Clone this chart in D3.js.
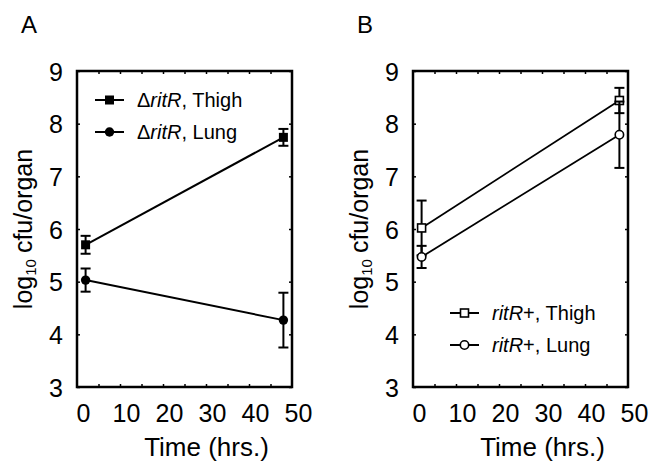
<!DOCTYPE html>
<html>
<head>
<meta charset="utf-8">
<script src="https://cdn.jsdelivr.net/npm/d3@7"></script>
<style>
  body { margin: 0; background: #fff; }
  svg { font-family: "Liberation Sans", Arial, sans-serif; }
</style>
</head>
<body>
<svg id="chart" width="652" height="461"></svg>
<script>
// values
var times = [2, 48];
var xTicks = [0, 10, 20, 30, 40, 50];
var xMinor = [5, 10, 15, 20, 25, 30, 35, 40, 45];
var yTicks = [3, 4, 5, 6, 7, 8, 9];

var thighA = [5.70, 7.74];
var thighAErr = [0.17, 0.16];
var lungA = [5.03, 4.27];
var lungAErr = [0.22, 0.52];

var thighB = [6.02, 8.44];
var thighBErr = [0.52, 0.24];
var lungB = [5.47, 7.79];
var lungBErr = [0.21, 0.63];

var svg = d3.select("#chart");

function drawPanel(cfg) {
    var left = cfg.left, right = cfg.left + 215, top = 71, bottom = 387;
    var x = d3.scaleLinear().domain([0, 50]).range([left, right]);
    var y = d3.scaleLinear().domain([3, 9]).range([bottom, top]);
    var g = svg.append("g");

    // panel letter
    g.append("text").attr("x", cfg.left - 56).attr("y", 33)
        .attr("font-size", 24).text(cfg.letter);

    // inner ticks on all four sides
    g.append("g").attr("transform", "translate(0," + bottom + ")")
        .call(d3.axisBottom(x).tickValues(xMinor).tickSize(-3).tickFormat(""))
        .call(a => a.select(".domain").remove());
    g.append("g").attr("transform", "translate(0," + top + ")")
        .call(d3.axisTop(x).tickValues(xMinor).tickSize(-3).tickFormat(""))
        .call(a => a.select(".domain").remove());
    g.append("g").attr("transform", "translate(" + left + ",0)")
        .call(d3.axisLeft(y).tickValues(yTicks).tickSize(-3).tickFormat(""))
        .call(a => a.select(".domain").remove());
    g.append("g").attr("transform", "translate(" + right + ",0)")
        .call(d3.axisRight(y).tickValues(yTicks).tickSize(-3).tickFormat(""))
        .call(a => a.select(".domain").remove());
    g.selectAll(".tick line").attr("stroke-width", 1.5);

    // tick labels
    var xa = g.append("g").attr("transform", "translate(0," + bottom + ")")
        .call(d3.axisBottom(x).tickValues(xTicks).tickSize(0).tickPadding(0).tickFormat(d3.format("d")));
    xa.select(".domain").remove();
    xa.selectAll("text").attr("font-size", 25).attr("font-family", null)
        .attr("fill", "#000").attr("dx", 6).attr("y", 35).attr("dy", 0);

    var ya = g.append("g").attr("transform", "translate(" + left + ",0)")
        .call(d3.axisLeft(y).tickValues(yTicks).tickSize(0).tickPadding(14).tickFormat(d3.format("d")));
    ya.select(".domain").remove();
    ya.selectAll("text").attr("font-size", 25).attr("font-family", null)
        .attr("fill", "#000").attr("dy", "0.36em");

    // frame
    g.append("rect").attr("x", left).attr("y", top)
        .attr("width", right - left).attr("height", bottom - top)
        .attr("fill", "none").attr("stroke", "#000").attr("stroke-width", 2.5);

    // axis titles
    g.append("text").attr("x", (left + right) / 2 + 22).attr("y", 456)
        .attr("text-anchor", "middle").attr("font-size", 26).text("Time (hrs.)");
    var yt = g.append("text")
        .attr("transform", "translate(" + (left - 45) + "," + ((top + bottom) / 2) + ") rotate(-90)")
        .attr("text-anchor", "middle").attr("font-size", 25);
    yt.append("tspan").text("log");
    yt.append("tspan").attr("font-size", 15).attr("dy", 4).text("10");
    yt.append("tspan").attr("dy", -4).attr("dx", 6).text("cfu/organ");

    var line = d3.line().x((d, i) => x(times[i])).y(d => y(d));

    cfg.series.forEach(function (s) {
        g.append("path").datum(s.vals).attr("d", line)
            .attr("fill", "none").attr("stroke", "#000").attr("stroke-width", cfg.lw);

        // error bars
        var eb = g.append("g").attr("stroke", "#000").attr("stroke-width", 2);
        s.vals.forEach(function (v, i) {
            var cx = x(times[i]);
            eb.append("line").attr("x1", cx).attr("x2", cx)
                .attr("y1", y(v - s.err[i])).attr("y2", y(v + s.err[i]));
            [v - s.err[i], v + s.err[i]].forEach(function (e) {
                eb.append("line").attr("x1", cx - 5).attr("x2", cx + 5)
                    .attr("y1", y(e)).attr("y2", y(e));
            });
        });

        s.vals.forEach(function (v, i) {
            marker(g, x(times[i]), y(v), s.shape, cfg.open);
        });
    });

    // legend
    var lg = g.append("g");
    cfg.series.forEach(function (s, i) {
        var ly = cfg.legY + i * 32;
        lg.append("line").attr("x1", cfg.legX).attr("x2", cfg.legX + 29)
            .attr("y1", ly).attr("y2", ly).attr("stroke", "#000").attr("stroke-width", 2);
        marker(lg, cfg.legX + 14.5, ly, s.shape, cfg.open);
        var t = lg.append("text").attr("x", cfg.legX + 42).attr("y", ly + 7)
            .attr("font-size", 20);
        s.label.forEach(function (p) {
            t.append("tspan").attr("font-style", p.it ? "italic" : null).text(p.t);
        });
    });
}

function marker(g, cx, cy, shape, open) {
    var fill = open ? "#fff" : "#000";
    if (shape === "square") {
        var s = open ? 8 : 9;
        g.append("rect").attr("x", cx - s / 2).attr("y", cy - s / 2)
            .attr("width", s).attr("height", s).attr("fill", fill)
            .attr("stroke", "#000").attr("stroke-width", open ? 1.6 : 0);
    } else {
        g.append("circle").attr("cx", cx).attr("cy", cy).attr("r", open ? 4.2 : 4.7)
            .attr("fill", fill).attr("stroke", "#000").attr("stroke-width", open ? 1.6 : 0);
    }
}

drawPanel({
    letter: "A", left: 77, lw: 2, open: false, legX: 95, legY: 100,
    series: [
        { vals: thighA, err: thighAErr, shape: "square",
          label: [{ t: "\u0394" }, { t: "ritR", it: true }, { t: ", Thigh" }] },
        { vals: lungA, err: lungAErr, shape: "circle",
          label: [{ t: "\u0394" }, { t: "ritR", it: true }, { t: ", Lung" }] }
    ]
});

drawPanel({
    letter: "B", left: 413, lw: 1.8, open: true, legX: 450, legY: 313,
    series: [
        { vals: thighB, err: thighBErr, shape: "square",
          label: [{ t: "ritR", it: true }, { t: "+, Thigh" }] },
        { vals: lungB, err: lungBErr, shape: "circle",
          label: [{ t: "ritR", it: true }, { t: "+, Lung" }] }
    ]
});
</script>
</body>
</html>
